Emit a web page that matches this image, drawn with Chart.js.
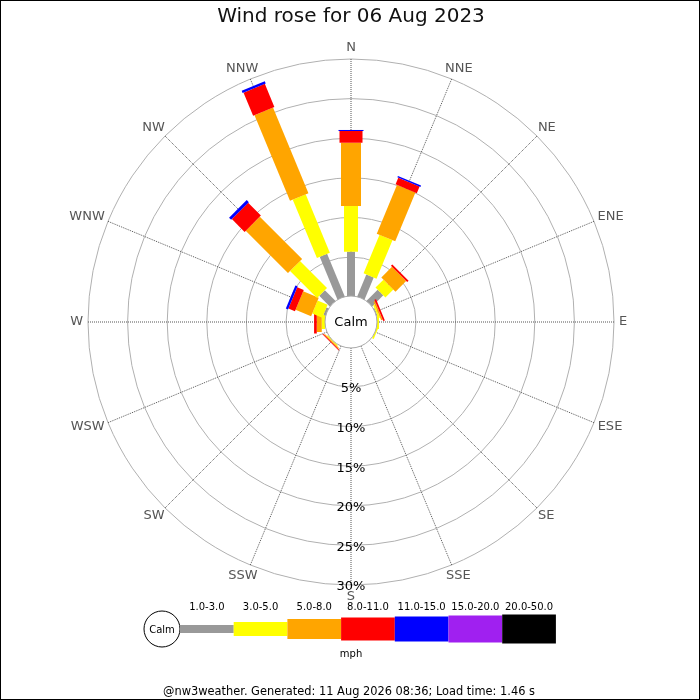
<!DOCTYPE html>
<html>
<head>
<meta charset="utf-8">
<title>Wind rose</title>
<script src="https://cdn.jsdelivr.net/npm/chart.js@4/dist/chart.umd.min.js"></script>
<style>
  html, body { margin: 0; padding: 0; background: #fff; }
  #rose { display: block; }
</style>
</head>
<body>
<canvas id="rose" width="700" height="700"></canvas>
<script>
// Directions and speed bands
const directions = ["N", "NNE", "NE", "ENE", "E", "ESE", "SE", "SSE", "S", "SSW", "SW", "WSW", "W", "WNW", "NW", "NNW"];
const speedBands = ["1.0-3.0", "3.0-5.0", "5.0-8.0", "8.0-11.0", "11.0-15.0", "15.0-20.0", "20.0-50.0"];

// Percent of time per direction, one array per speed band (mph)
const band1to3 = [5.67, 3.08, 2.06, 0.2, 0.08, 0.05, 0, 0, 0, 0, 0.05, 0, 0.08, 0.37, 1.97, 5.91];
const band3to5 = [5.77, 5.27, 1.42, 0.2, 0.25, 0.22, 0, 0, 0, 0, 0.15, 0, 0.41, 1.36, 4.82, 7.97];
const band5to8 = [7.99, 6.66, 1.9, 0.2, 0, 0, 0, 0, 0, 0, 0.13, 0, 0.63, 2.13, 7.55, 11.7];
const band8to11 = [1.48, 0.9, 0.25, 0.23, 0, 0, 0, 0, 0, 0, 0.12, 0, 0.34, 0.89, 2.28, 3.16];
const band11to15 = [0.13, 0.18, 0, 0, 0, 0, 0, 0, 0, 0, 0, 0, 0, 0.3, 0.37, 0.31];
const band15to20 = [0, 0, 0, 0, 0, 0, 0, 0, 0, 0, 0, 0, 0, 0, 0, 0];
const band20to50 = [0, 0, 0, 0, 0, 0, 0, 0, 0, 0, 0, 0, 0, 0, 0, 0];

// Ring values and their labels
const ringValues = [0, 5, 10, 15, 20, 25, 30];
const ringLabels = ["", "5%", "10%", "15%", "20%", "25%", "30%"];

const titleText = "Wind rose for 06 Aug 2023";
const unitText = "mph";
const footerText = "@nw3weather. Generated: 11 Aug 2026 08:36; Load time: 1.46 s";

const FONT = "'DejaVu Sans', 'Liberation Sans', sans-serif";
const bandColors = ["#999999", "#ffff00", "#ffa500", "#ff0000", "#0000ff", "#a020f0", "#000000"];
const bandWidths = [8, 14, 20, 23, 25, 27, 29];

const bandData = [band1to3, band3to5, band5to8, band8to11, band11to15, band15to20, band20to50];

// Stacked rectangles, calm circle and labels drawn on the radial scale
const roseBars = {
  id: "roseBars",
  afterDatasetsDraw(chart) {
    const r = chart.scales.r;
    const ctx = chart.ctx;
    ctx.save();
    ctx.translate(r.xCenter, r.yCenter);

    directions.forEach((dir, i) => {
      ctx.save();
      ctx.rotate(r.getIndexAngle(i));
      let cum = 0;
      chart.data.datasets.forEach((ds, k) => {
        const v = ds.data[i];
        if (!v) return;
        const inner = r.getDistanceFromCenterForValue(cum);
        cum += v;
        const outer = r.getDistanceFromCenterForValue(cum);
        const w = bandWidths[k];
        ctx.fillStyle = bandColors[k];
        ctx.fillRect(-w / 2, -outer, w, outer - inner);
      });
      ctx.restore();
    });

    // Calm circle
    ctx.beginPath();
    ctx.arc(0, 0, 26, 0, Math.PI * 2);
    ctx.fillStyle = "#fff";
    ctx.fill();
    ctx.lineWidth = 1;
    ctx.strokeStyle = "#aaaaaa";
    ctx.stroke();
    ctx.fillStyle = "#000";
    ctx.font = "13px " + FONT;
    ctx.textAlign = "center";
    ctx.textBaseline = "middle";
    ctx.fillText("Calm", 0, 1);

    // Ring labels down the south axis
    ringValues.forEach((v, i) => {
      if (!ringLabels[i]) return;
      ctx.fillText(ringLabels[i], 0, r.getDistanceFromCenterForValue(v) + 2);
    });
    ctx.restore();

    // Compass labels
    ctx.save();
    ctx.font = "13px " + FONT;
    ctx.fillStyle = "#555555";
    ctx.textAlign = "center";
    ctx.textBaseline = "middle";
    directions.forEach((dir, i) => {
      const a = r.getIndexAngle(i);
      const p = r.getPointPosition(i, r.drawingArea + 5);
      const w = ctx.measureText(dir).width;
      ctx.fillText(dir, p.x + (w / 2) * Math.sin(a), p.y - 6.5 * Math.cos(a));
    });
    ctx.restore();
  },
  afterDraw(chart) {
    const ctx = chart.ctx;
    ctx.save();
    // Legend: calm circle then one box per speed band
    ctx.beginPath();
    ctx.arc(162, 629, 18, 0, Math.PI * 2);
    ctx.fillStyle = "#fff";
    ctx.fill();
    ctx.strokeStyle = "#000";
    ctx.lineWidth = 1;
    ctx.stroke();
    ctx.fillStyle = "#000";
    ctx.textAlign = "center";
    ctx.textBaseline = "middle";
    ctx.font = "10px " + FONT;
    ctx.fillText("Calm", 162, 630);

    const boxW = 53.7;
    speedBands.forEach((lab, k) => {
      const x = 180 + k * boxW;
      const h = bandWidths[k];
      ctx.fillStyle = bandColors[k];
      ctx.fillRect(x, 629 - h / 2, boxW, h);
      ctx.fillStyle = "#000";
      ctx.fillText(lab, x + boxW / 2, 607);
    });
    ctx.fillText(unitText, 351, 654);

    ctx.font = "11.4px " + FONT;
    ctx.fillText(footerText, 349, 692);

    // outer frame
    ctx.strokeStyle = "#000";
    ctx.strokeRect(0.5, 0.5, 699, 699);
    ctx.restore();
  }
};

const ctx = document.getElementById("rose").getContext("2d");
new Chart(ctx, {
  type: "radar",
  data: {
    labels: directions,
    datasets: speedBands.map((lab, k) => ({
      label: lab,
      data: bandData[k],
      backgroundColor: bandColors[k],
      borderColor: "transparent",
      borderWidth: 0,
      pointRadius: 0,
      showLine: false,
      fill: false,
    })),
  },
  options: {
    responsive: false,
    animation: false,
    events: [],
    layout: {
      padding: { left: 88, right: 86, top: 0, bottom: 115 },
    },
    plugins: {
      legend: { display: false },
      tooltip: { enabled: false },
      title: {
        display: true,
        text: titleText,
        color: "#111",
        font: { family: FONT, size: 20, weight: "normal" },
        padding: { top: 5, bottom: 30 },
      },
    },
    scales: {
      r: {
        min: -3.2,
        max: 30,
        startAngle: 0,
        afterBuildTicks: (scale) => {
          scale.ticks = ringValues.map((v) => ({ value: v }));
        },
        ticks: { display: false },
        pointLabels: { display: false },
        grid: { color: "#b0b0b0", lineWidth: 1, circular: true },
        angleLines: { color: "#555", lineWidth: 1, borderDash: [1, 1] },
      },
    },
  },
  plugins: [roseBars],
});
</script>
</body>
</html>
